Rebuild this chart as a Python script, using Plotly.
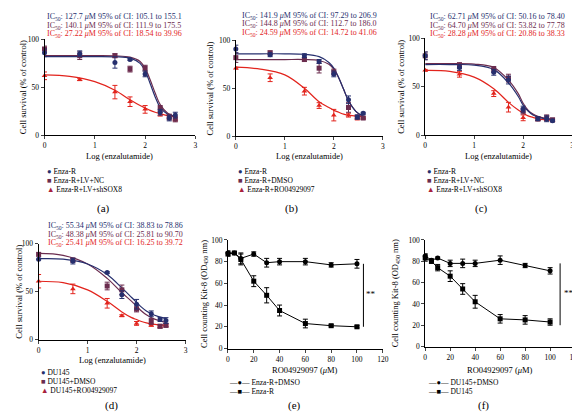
import plotly.graph_objects as go

W, H = 580, 413
NAVY = "#262f6e"
PURP = "#6b2c4e"
RED = "#e2241d"
FONT = "Liberation Serif"

# ---------------- data ----------------
log_x = [0, 0.7, 1.4, 1.7, 2.0, 2.3, 2.48, 2.6]
curve_x = [0, 0.5, 1.0, 1.4, 1.7, 1.9, 2.0, 2.1, 2.2, 2.3, 2.45, 2.6]

# panel a
a_navy = [86, 85, 76, 79, 64, 24, 18, 21]
a_navy_err = [4, 3, 6, 1, 3, 3, 3, 3]
a_purp = [90, 83, 83, 69, 70, 28, 19, 17]
a_purp_err = [3, 4, 2, 3, 3, 3, 3, 3]
a_red = [62, 58, 45, 35, 27, 22, 19, 17]
a_red_err = [4, 1, 7, 5, 4, 2, 2, 2]
a_navy_fit = [82, 82, 82, 81.8, 80.5, 75, 67, 54, 40, 29, 22, 19.5]
a_purp_fit = [83, 83, 83, 82.8, 81.5, 77, 70, 58, 44, 32, 23, 19.5]
a_red_fit = [63, 61.5, 56, 47, 37, 31, 28.5, 26, 24, 22.5, 20.5, 19.5]

# panel b
b_navy = [91, 85, 84, 78, 65, 38, 20, 24]
b_navy_err = [4, 2, 2, 2, 3, 4, 2, 1]
b_purp = [82, 87, 80, 71, 67, 30, 20, 19]
b_purp_err = [5, 2, 2, 5, 3, 5, 2, 1]
b_red = [71, 61, 47, 32, 22, 22, 19, 19]
b_red_err = [1, 4, 4, 3, 6, 2, 2, 1]
b_navy_fit = [86, 86, 86, 85.5, 83, 77, 71, 61, 49, 37, 26, 21]
b_purp_fit = [80, 80, 80, 80, 79, 75, 70, 61, 49, 37, 26, 20]
b_red_fit = [72, 70, 64, 50, 36, 30, 27, 25, 23, 22, 21, 20.5]

# panel c
c_navy = [82, 70, 65, 57, 27, 17, 17, 15]
c_navy_err = [4, 3, 3, 4, 3, 2, 3, 1]
c_purp = [82, 72, 68, 59, 25, 17, 18, 16]
c_purp_err = [4, 3, 3, 4, 3, 2, 3, 1]
c_red = [67, 63, 43, 29, 18, 16, 16, 15]
c_red_err = [1, 3, 3, 5, 3, 1, 1, 1]
c_navy_fit = [73, 73, 72.5, 68, 54, 40, 31, 25, 21, 19, 17, 16.5]
c_purp_fit = [74, 74, 73.5, 70, 57, 43, 33, 26, 22, 19.5, 17.5, 16.5]
c_red_fit = [67, 66, 60, 48, 34, 26, 23, 20, 18.5, 17, 16, 15.5]

# panel d
d_navy = [84, 82, 70, 47, 37, 27, 21, 20]
d_navy_err = [1, 3, 1, 4, 5, 3, 2, 3]
d_purp = [89, 83, 56, 52, 32, 19, 14, 15]
d_purp_err = [2, 2, 4, 5, 3, 3, 2, 2]
d_red = [61, 53, 38, 25, 17, 15, 14, 15]
d_red_err = [7, 5, 5, 1, 2, 1, 1, 1]
d_navy_fit = [84.5, 84, 79, 68, 54, 44, 39, 34, 30, 27, 24, 22]
d_purp_fit = [90, 88, 79, 64, 49, 40, 35, 30, 26, 23, 20, 18]
d_red_fit = [61, 59.5, 52, 40, 29, 23, 21, 19, 17.5, 16.5, 15.5, 15]

# panels e, f
ro_x = [0, 5, 10, 20, 30, 40, 60, 80, 100]
e_dmso = [88, 88, 83, 87, 79, 80, 80, 77, 78]
e_dmso_err = [2, 1, 5, 2, 4, 3, 3, 2, 4]
e_enza = [87, 88, 82, 62, 49, 35, 23, 21, 20]
e_enza_err = [2, 1, 5, 5, 7, 5, 4, 1, 1]
f_dmso = [85, 81, 83, 78, 78, 78, 81, 76, 71]
f_dmso_err = [2, 1, 1, 3, 4, 3, 4, 2, 3]
f_du = [83, 80, 74, 66, 54, 42, 26, 25, 23]
f_du_err = [3, 2, 3, 5, 5, 6, 4, 4, 3]

ic50_texts = {
    "a": [("127.7", "105.1 to 155.1"), ("140.1", "111.9 to 175.5"), ("27.22", "18.54 to 39.96")],
    "b": [("141.9", "97.29 to 206.9"), ("144.8", "112.7 to 186.0"), ("24.59", "14.72 to 41.06")],
    "c": [("62.71", "50.16 to 78.40"), ("64.70", "53.82 to 77.78"), ("28.28", "20.86 to 38.33")],
    "d": [("55.34", "38.83 to 78.86"), ("48.38", "25.81 to 90.70"), ("25.41", "16.25 to 39.72")],
}
legend_labels = {
    "a": ["Enza-R", "Enza-R+LV+NC", "Enza-R+LV+shSOX8"],
    "b": ["Enza-R", "Enza-R+DMSO", "Enza-R+RO04929097"],
    "c": ["Enza-R", "Enza-R+LV+NC", "Enza-R+LV+shSOX8"],
    "d": ["DU145", "DU145+DMSO", "DU145+RO04929097"],
    "e": ["Enza-R+DMSO", "Enza-R"],
    "f": ["DU145+DMSO", "DU145"],
}

# ---------------- layout geometry (pixels) ----------------
def px(x):
    return x / W

def py(y):
    return 1 - y / H

# left, right, y(0), y(100)
geom = {
    "a": (35, 188, 126, 28),
    "b": (229, 378, 127, 29),
    "c": (421, 570, 126, 27),
    "d": (29, 178, 335, 237),
    "e": (221, 378, 344, 233),
    "f": (421, 573, 342, 233),
}
names = ["a", "b", "c", "d", "e", "f"]

fig = go.Figure()
layout = dict(
    width=W, height=H, margin=dict(l=0, r=0, t=0, b=0),
    paper_bgcolor="white", plot_bgcolor="white", showlegend=False,
    font=dict(family=FONT, size=8, color="black"),
)
annotations = []
shapes = []

for i, n in enumerate(names, start=1):
    l, r, y0, y1 = geom[n]
    sfx = "" if i == 1 else str(i)
    xa = dict(domain=[px(l), px(r)], anchor="y" + sfx, showgrid=False, zeroline=False,
              showline=True, linecolor="black", linewidth=1, ticks="outside", ticklen=3,
              tickwidth=1, tickfont=dict(size=7.5, family=FONT))
    ya = dict(domain=[py(y0), py(y1)], anchor="x" + sfx, showgrid=False, zeroline=False,
              showline=True, linecolor="black", linewidth=1, ticks="outside", ticklen=3,
              tickwidth=1, tickfont=dict(size=7.5, family=FONT), range=[0, 100])
    if n in "abcd":
        xa.update(range=[0, 3], tickvals=[0, 1, 2, 3])
        ya.update(tickvals=[0, 50, 100])
    else:
        xa.update(range=[0, 120], tickvals=list(range(0, 121, 20)))
        ya.update(tickvals=list(range(0, 101, 20)))
    layout["xaxis" + sfx] = xa
    layout["yaxis" + sfx] = ya

def add_pts(i, x, y, err, color, symbol, mode="markers", size=5):
    sfx = "" if i == 1 else str(i)
    fig.add_trace(go.Scatter(
        x=x, y=y, mode=mode, xaxis="x" + sfx, yaxis="y" + sfx, cliponaxis=False,
        marker=dict(color=color, symbol=symbol, size=size),
        line=dict(color=color, width=1),
        error_y=dict(type="data", array=err, color=color, thickness=1, width=2.5)))

def add_fit(i, y, color):
    sfx = "" if i == 1 else str(i)
    fig.add_trace(go.Scatter(
        x=curve_x, y=y, mode="lines", xaxis="x" + sfx, yaxis="y" + sfx,
        line=dict(color=color, width=1.2, shape="spline", smoothing=1.0), cliponaxis=False))

panel_data = {
    "a": (a_navy, a_navy_err, a_purp, a_purp_err, a_red, a_red_err, a_navy_fit, a_purp_fit, a_red_fit),
    "b": (b_navy, b_navy_err, b_purp, b_purp_err, b_red, b_red_err, b_navy_fit, b_purp_fit, b_red_fit),
    "c": (c_navy, c_navy_err, c_purp, c_purp_err, c_red, c_red_err, c_navy_fit, c_purp_fit, c_red_fit),
    "d": (d_navy, d_navy_err, d_purp, d_purp_err, d_red, d_red_err, d_navy_fit, d_purp_fit, d_red_fit),
}
for i, n in enumerate("abcd", start=1):
    nv, nve, pu, pue, rd, rde, nf, pf, rf = panel_data[n]
    add_fit(i, rf, RED)
    add_fit(i, pf, PURP)
    add_fit(i, nf, NAVY)
    add_pts(i, log_x, rd, rde, RED, "triangle-up", size=5)
    add_pts(i, log_x, pu, pue, PURP, "square", size=5)
    add_pts(i, log_x, nv, nve, NAVY, "circle", size=5)

add_pts(5, ro_x, e_dmso, e_dmso_err, "black", "circle", mode="lines+markers", size=5)
add_pts(5, ro_x, e_enza, e_enza_err, "black", "square", mode="lines+markers", size=5)
add_pts(6, ro_x, f_dmso, f_dmso_err, "black", "circle", mode="lines+markers", size=5)
add_pts(6, ro_x, f_du, f_du_err, "black", "square", mode="lines+markers", size=5)

def ann(x, y, text, size=8, xanchor="left", angle=0, color="black"):
    annotations.append(dict(x=px(x), y=py(y), xref="paper", yref="paper", text=text,
                            showarrow=False, xanchor=xanchor, yanchor="middle",
                            textangle=angle, font=dict(size=size, family=FONT, color=color)))

# IC50 texts
ic_pos = {"a": (35, [5, 14, 23]), "b": (233, [4, 12.5, 21]), "c": (424, [5, 14, 22.5]),
          "d": (36, [219, 227.5, 236])}
cols = [NAVY, PURP, RED]
for n in "abcd":
    x0, ys = ic_pos[n]
    for (v, ci), yy, c in zip(ic50_texts[n], ys, cols):
        ann(x0, yy, f"IC<sub>50</sub>: {v} <i>μ</i>M 95% of CI: {ci}", size=8, color=c)

# y axis titles
ylab = {"a": (14, 77), "b": (203, 78), "c": (397, 77), "d": (9, 286)}
for n, (x, y) in ylab.items():
    ann(x, y, "Cell survival (% of control)", size=8.5, xanchor="center", angle=-90)
ann(197, 288, "Cell counting Kit-8 (OD<sub>450</sub> nm)", size=8.5, xanchor="center", angle=-90)
ann(391, 288, "Cell counting Kit-8 (OD<sub>450</sub> nm)", size=8.5, xanchor="center", angle=-90)

# x axis titles
for n, yy in (("a", 147), ("b", 147), ("c", 147), ("d", 356)):
    l, r, _, _ = geom[n]
    ann((l + r) / 2, yy, "Log (enzalutamide)", size=8.5, xanchor="center")
for n in "ef":
    l, r, _, _ = geom[n]
    ann((l + r) / 2, 366, "RO04929097 (<i>μ</i>M)", size=8.5, xanchor="center")

# legends a-d
leg_pos = {"a": (35, [163, 172, 181]), "b": (229, [163, 172, 181]),
           "c": (421, [163, 172, 181]), "d": (29, [369, 378, 387])}
glyphs = [("●", NAVY), ("■", PURP), ("▲", "#a8213c")]
for n in "abcd":
    x0, ys = leg_pos[n]
    for (g, c), lab, yy in zip(glyphs, legend_labels[n], ys):
        ann(x0, yy, f"<span style='color:{c}'>{g}</span> {lab}", size=7.5)

# legends e-f
for n, x0 in (("e", 220), ("f", 422)):
    for lab, g, yy in zip(legend_labels[n], ["●", "■"], [379, 388]):
        ann(x0, yy, f"—{g}— {lab}", size=7.5)

# panel letters
for n, x, y in (("a", 95, 201), ("b", 285, 201), ("c", 478, 201),
                ("d", 103, 402), ("e", 288, 402), ("f", 480, 402)):
    ann(x, y, f"({n})", size=11, xanchor="center")

# significance markers
for ax, xl, xs in (("5", 105, 111), ("6", 108, 115)):
    shapes.append(dict(type="line", xref="x" + ax, yref="y" + ax, x0=xl, x1=xl, y0=20, y1=78,
                       line=dict(color="black", width=1)))
    annotations.append(dict(x=xs, y=50, xref="x" + ax, yref="y" + ax, text="**",
                            showarrow=False, font=dict(size=9, family=FONT)))

layout["annotations"] = annotations
layout["shapes"] = shapes
fig.update_layout(**layout)
fig.write_html("out.html")
